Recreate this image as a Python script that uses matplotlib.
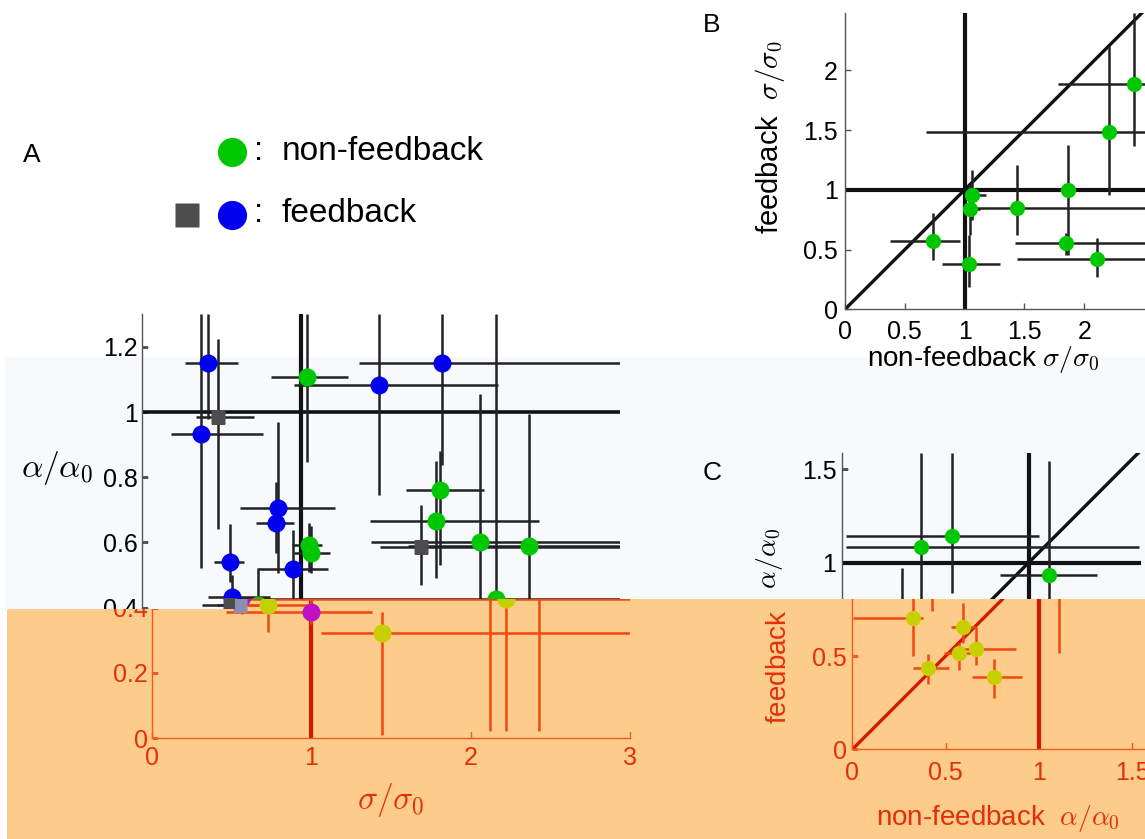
import numpy as np
import matplotlib.pyplot as plt
from matplotlib.patches import Polygon
from matplotlib.lines import Line2D
from matplotlib.text import Text
from matplotlib.transforms import Bbox, TransformedBbox

plt.rcParams['font.family'] = ['Liberation Sans', 'DejaVu Sans']
plt.rcParams['mathtext.fontset'] = 'cm'

# ---------------- panel A: sigma/sigma0 (x) vs alpha/alpha0 (y) ----------------
# kind: 'non' = non-feedback (circle), 'fb' = feedback (circle), 'sq' = feedback (square)
a_kind = ['fb', 'fb', 'fb', 'fb', 'fb', 'fb', 'fb', 'fb', 'fb', 'fb',
          'sq', 'sq', 'sq',
          'non', 'non', 'non', 'non', 'non', 'non', 'non', 'non', 'non', 'non']
a_x = [0.415, 0.372, 0.851, 0.841, 0.949, 0.551, 0.564, 1.885, 1.487, 1.00,
       0.474, 1.749, 0.55,
       1.036, 1.872, 1.846, 2.12, 2.428, 1.049, 1.062, 2.218, 0.725, 1.441]
a_y = [1.151, 0.934, 0.704, 0.658, 0.517, 0.539, 0.434, 1.151, 1.082, 0.388,
       0.985, 0.585, 0.408,
       1.107, 0.760, 0.666, 0.600, 0.589, 0.592, 0.569, 0.427, 0.408, 0.321]
a_xlo = [0.27, 0.18, 0.613, 0.715, 0.728, 0.454, 0.415, 1.364, 0.954, 0.464,
         0.34, 1.49, 0.377,
         0.808, 1.659, 1.428, 1.436, 1.67, 0.94, 0.954, 0.60, 0.47, 1.06]
a_xhi = [0.60, 0.76, 1.21, 0.954, 1.17, 0.641, 0.80, 3.0, 2.231, 1.38,
         0.70, 3.0, 0.749,
         1.295, 2.146, 2.49, 3.0, 3.0, 1.13, 1.18, 3.0, 1.0, 3.0]
a_ylo = [0.98, 0.52, 0.505, 0.566, 0.424, 0.48, 0.38, 0.837, 0.745, 0.35,
         0.64, 0.469, 0.39,
         0.847, 0.53, 0.49, 0.02, 0.02, 0.51, 0.505, 0.02, 0.326, 0.01]
a_yhi = [1.30, 1.30, 0.97, 0.786, 0.638, 0.656, 0.50, 1.30, 1.30, 0.43,
         1.224, 0.714, 0.43,
         1.30, 0.88, 0.85, 1.056, 0.995, 0.66, 0.65, 1.30, 0.52, 0.388]
a_xticks = [0, 1, 2, 3]
a_yticks = [0, 0.2, 0.4, 0.6, 0.8, 1, 1.2]

# ---------------- panel B: non-feedback vs feedback sigma/sigma0 ----------------
b_x = [0.738, 1.033, 1.045, 1.058, 1.435, 1.866, 1.844, 2.109, 2.209, 2.418]
b_y = [0.568, 0.378, 0.839, 0.960, 0.848, 1.001, 0.554, 0.422, 1.485, 1.888]
b_xlo = [0.376, 0.808, 0.99, 1.02, 1.045, 1.80, 1.42, 1.435, 0.677, 1.783]
b_xhi = [0.961, 1.295, 1.13, 1.18, 2.52, 1.93, 2.52, 2.52, 2.52, 2.52]
b_ylo = [0.414, 0.19, 0.62, 0.75, 0.624, 0.456, 0.456, 0.274, 0.959, 1.365]
b_yhi = [0.806, 0.62, 1.05, 1.17, 1.211, 1.379, 0.638, 0.596, 2.204, 2.484]
b_ticks = [0, 0.5, 1, 1.5, 2]

# ---------------- panel C: non-feedback vs feedback alpha/alpha0 ----------------
c_x = [0.425, 0.591, 1.107, 0.323, 0.591, 0.573, 0.663, 0.407, 0.759]
c_y = [1.082, 1.145, 0.934, 0.705, 0.657, 0.518, 0.538, 0.434, 0.386]
c_xlo = [0.02, 0.02, 0.845, 0.005, 0.53, 0.49, 0.541, 0.323, 0.639]
c_xhi = [1.59, 1.054, 1.366, 0.38, 0.66, 0.67, 0.877, 0.52, 0.907]
c_ylo = [0.74, 0.84, 0.518, 0.50, 0.568, 0.425, 0.452, 0.35, 0.273]
c_yhi = [1.589, 1.589, 1.546, 0.97, 0.782, 0.568, 0.657, 0.509, 0.482]
c_ticks = [0, 0.5, 1, 1.5]

# colours: plain figure, and the orange-tinted band at the bottom
TOP = dict(line='#222222', ref='#111111', spine='#555555', text='black',
           non='#00c800', fb='#0000ee', sq='#4d4d4d')
LOW = dict(line='#f2460e', ref='#d21a00', spine='#f25a1e', text='#e2300a',
           non='#c6d000', fb='#c010c4', sq='#8a8eb0')

W, H = 1145, 839
fig = plt.figure(figsize=(W / 100, H / 100), dpi=100)


def fpt(px, py):
    return (px / W, 1 - py / H)


top_zone = Polygon([fpt(*p) for p in [(0, 0), (W, 0), (W, 599), (235, 599), (235, 609),
                                      (7, 609), (7, H), (0, H)]],
                   closed=True, transform=fig.transFigure)
low_zone = Polygon([fpt(*p) for p in [(7, 609), (235, 609), (235, 599), (W, 599),
                                      (W, H), (7, H)]],
                   closed=True, transform=fig.transFigure)

fig.add_artist(Polygon([fpt(*p) for p in [(5, 357), (W, 357), (W, 610), (5, 610)]],
                       closed=True, transform=fig.transFigure, fc='#f6fafd', ec='none', zorder=-10))
fig.add_artist(Polygon(low_zone.get_xy(), closed=True, transform=fig.transFigure,
                       fc='#fdcc8b', ec='none', zorder=-9))


def make_axes(x0, y0, ux, uy, xmax, ymax):
    ax = fig.add_axes([x0 / W, 1 - y0 / H, xmax * ux / W, ymax * uy / H])
    ax.set_xlim(0, xmax)
    ax.set_ylim(0, ymax)
    ax.patch.set_visible(False)
    ax.spines['top'].set_visible(False)
    ax.spines['right'].set_visible(False)
    return ax


def style(ax, pal, xt, yt, xpad, ypad):
    for s in ['left', 'bottom']:
        ax.spines[s].set_color(pal['spine'])
        ax.spines[s].set_linewidth(1)
    ax.set_xticks(xt, [f'{v:g}' for v in xt])
    ax.set_yticks(yt, [f'{v:g}' for v in yt])
    ax.tick_params(direction='in', length=4, width=1, color=pal['spine'],
                   labelcolor=pal['text'], labelsize=18)
    ax.tick_params(axis='x', pad=xpad)
    ax.tick_params(axis='y', pad=ypad)


def draw_points(ax, pal, x, y, xlo, xhi, ylo, yhi, kind, ms, lw):
    x, y = np.array(x), np.array(y)
    ax.errorbar(x, y, xerr=[x - np.array(xlo), np.array(xhi) - x],
                yerr=[y - np.array(ylo), np.array(yhi) - y],
                fmt='none', ecolor=pal['line'], elinewidth=lw, capsize=0)
    kind = np.array(kind)
    for k, m, s in [('non', 'o', ms), ('fb', 'o', ms), ('sq', 's', ms * 0.8)]:
        sel = kind == k
        if sel.any():
            ax.plot(x[sel], y[sel], ls='none', marker=m, ms=s, color=pal[k], mec='none')


def clip_to(ax, zone, text_box):
    # Agg clips text only to rectangles, so texts get a box, everything else the polygon
    box = TransformedBbox(Bbox([fpt(*text_box[0]), fpt(*text_box[1])]), fig.transFigure)
    for art in ax.findobj():
        if art is ax:
            continue
        if isinstance(art, Text):
            art.set_clip_path(None)
            art.set_clip_box(box)
        else:
            art.set_clip_path(zone)
        art.set_clip_on(True)


# ---------- panel A (drawn twice: plain and tinted, the tinted copy sits 10 px right) ----------
for x0, pal, zone, tbox in [(142, TOP, top_zone, [(0, 609), (W, 0)]),
                            (152, LOW, low_zone, [(7, H), (W, 609)])]:
    ax = make_axes(x0, 738, 159.4, 326, 3.0, 1.30)
    style(ax, pal, a_xticks, a_yticks, 6, 3)
    ax.plot([0, 3], [1, 1], color=pal['ref'], lw=2.6)
    ax.plot([1, 1], [0, 1.30], color=pal['ref'], lw=3.0)
    draw_points(ax, pal, a_x, a_y, a_xlo, a_xhi, a_ylo, a_yhi, a_kind, 13, 1.8)
    ax.text(-0.533, 0.828, r'$\alpha/\alpha_0$', color=pal['text'], fontsize=24,
            ha='center', va='center')
    ax.text(1.50, -0.19, r'$\sigma/\sigma_0$', color=pal['text'], fontsize=24,
            ha='center', va='center')
    clip_to(ax, zone, tbox)

# ---------- panel B ----------
ax = make_axes(845, 309.3, 119.6, 119.4, 2.6, 2.484)
style(ax, TOP, b_ticks, b_ticks, 8, 5)
ax.plot([0, 2.484], [0, 2.484], color=TOP['ref'], lw=2.4)
ax.plot([1, 1], [0, 2.484], color=TOP['ref'], lw=3.0)
ax.plot([0, 2.52], [1, 1], color=TOP['ref'], lw=3.0)
draw_points(ax, TOP, b_x, b_y, b_xlo, b_xhi, b_ylo, b_yhi, ['non'] * len(b_x), 11, 1.8)
ax.text(1.155, -0.424, r'non-feedback $\sigma/\sigma_0$', fontsize=20, ha='center',
        va='center', clip_on=False)
ax.text(-0.628, 1.438, r'feedback  $\sigma/\sigma_0$', fontsize=21, rotation=90,
        ha='center', va='center', clip_on=False)

# ---------- panel C (plain + tinted copy) ----------
for x0, pal, zone, tbox in [(842, TOP, top_zone, [(0, 599), (W, 0)]),
                            (852.3, LOW, low_zone, [(7, H), (W, 599)])]:
    ax = make_axes(x0, 749.4, 186.6, 186.7, 1.7, 1.589)
    style(ax, pal, c_ticks, c_ticks, 8, 4)
    ax.plot([0, 1.59], [0, 1.59], color=pal['ref'], lw=2.4)
    ax.plot([1, 1], [0, 1.589], color=pal['ref'], lw=3.0)
    ax.plot([0, 1.59], [1, 1], color=pal['ref'], lw=3.0)
    draw_points(ax, pal, c_x, c_y, c_xlo, c_xhi, c_ylo, c_yhi, ['non'] * len(c_x), 11, 1.8)
    ax.text(0.781, -0.368, r'non-feedback  $\alpha/\alpha_0$', color=pal['text'], fontsize=20,
            ha='center', va='center')
    ax.text(-0.39, 0.661, r'feedback   $\alpha/\alpha_0$', color=pal['text'], fontsize=20,
            rotation=90, ha='center', va='center')
    clip_to(ax, zone, tbox)

# ---------- panel letters and key ----------
for letter, (px, py) in zip(['A', 'B', 'C'], [(32, 155), (712, 25), (712, 473)]):
    fig.text(*fpt(px, py), letter, fontsize=19, ha='center', va='center')

fig.add_artist(Line2D([232 / W], [1 - 152 / H], transform=fig.transFigure, ls='none',
                      marker='o', ms=21, color=TOP['non'], mec='none'))
fig.add_artist(Line2D([232 / W], [1 - 215 / H], transform=fig.transFigure, ls='none',
                      marker='o', ms=21, color=TOP['fb'], mec='none'))
fig.add_artist(Line2D([187 / W], [1 - 215 / H], transform=fig.transFigure, ls='none',
                      marker='s', ms=17, color=TOP['sq'], mec='none'))
fig.text(*fpt(259, 151), ':', fontsize=24, ha='center', va='center')
fig.text(*fpt(259, 214), ':', fontsize=24, ha='center', va='center')
fig.text(*fpt(282, 151), 'non-feedback', fontsize=24, ha='left', va='center')
fig.text(*fpt(282, 214), 'feedback', fontsize=24, ha='left', va='center')

fig.savefig('out.png', dpi=100)
